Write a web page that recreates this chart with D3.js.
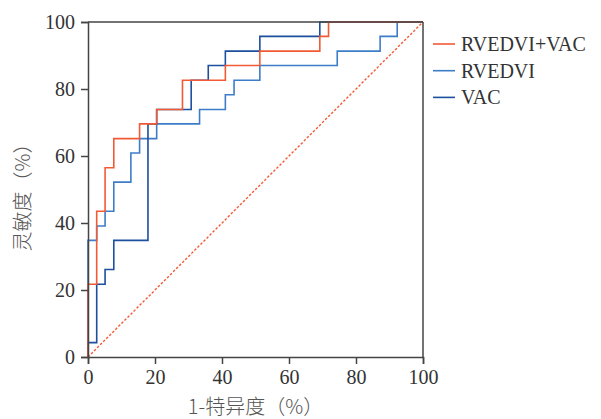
<!DOCTYPE html>
<meta charset="utf-8">
<style>
body { margin: 0; background: #fff; }
.tick text { font-family: "Liberation Serif", serif; font-size: 20px; fill: #333; }
.title { font-family: "Noto Sans CJK SC", sans-serif; font-size: 20px; fill: #555; font-weight: 300; }
.legend text { font-family: "Liberation Serif", serif; font-size: 20px; fill: #333; }
</style>
<body>
<script src="https://d3js.org/d3.v7.min.js"></script>
<script>

// ROC curve corner points, 1-specificity (%) and sensitivity (%)
var comboFpr  = [0, 0, 2.6, 2.6, 5.1, 5.1, 7.7, 7.7, 15.4, 15.4, 20.5, 20.5, 28.2, 28.2, 41.0, 41.0, 51.3, 51.3, 69.2, 69.2, 71.8, 71.8, 100];
var comboSens = [0, 21.7, 21.7, 43.5, 43.5, 56.5, 56.5, 65.2, 65.2, 69.6, 69.6, 73.9, 73.9, 82.6, 82.6, 87.0, 87.0, 91.3, 91.3, 95.7, 95.7, 100, 100];

var rvedviFpr  = [0, 0, 2.6, 2.6, 5.1, 5.1, 7.7, 7.7, 12.8, 12.8, 15.4, 15.4, 20.5, 20.5, 33.3, 33.3, 41.0, 41.0, 43.6, 43.6, 51.3, 51.3, 74.4, 74.4, 87.2, 87.2, 92.3, 92.3, 100];
var rvedviSens = [0, 34.8, 34.8, 39.1, 39.1, 43.5, 43.5, 52.2, 52.2, 60.9, 60.9, 65.2, 65.2, 69.6, 69.6, 73.9, 73.9, 78.3, 78.3, 82.6, 82.6, 87.0, 87.0, 91.3, 91.3, 95.7, 95.7, 100, 100];

var vacFpr  = [0, 0, 2.6, 2.6, 5.1, 5.1, 7.7, 7.7, 17.9, 17.9, 20.5, 20.5, 30.8, 30.8, 35.9, 35.9, 41.0, 41.0, 51.3, 51.3, 69.2, 69.2, 100];
var vacSens = [0, 4.3, 4.3, 21.7, 21.7, 26.1, 26.1, 34.8, 34.8, 69.6, 69.6, 73.9, 73.9, 82.6, 82.6, 87.0, 87.0, 91.3, 91.3, 95.7, 95.7, 100, 100];

var seriesNames = ["RVEDVI+VAC", "RVEDVI", "VAC"];
var seriesColors = ["#f15a35", "#3d7dc8", "#1c4f9e"];
var tickValues = [0, 20, 40, 60, 80, 100];

var margin = {top: 22, right: 178, bottom: 62, left: 88},
    width = 601 - margin.left - margin.right,
    height = 419 - margin.top - margin.bottom;

var svg = d3.select("body").append("svg")
    .attr("width", 601)
    .attr("height", 419);

var g = svg.append("g")
    .attr("transform", "translate(" + margin.left + "," + margin.top + ")");

var x = d3.scaleLinear().domain([0, 100]).range([0, width]);
var y = d3.scaleLinear().domain([0, 100]).range([height, 0]);

// reference diagonal
g.append("line")
    .attr("x1", x(0)).attr("y1", y(0))
    .attr("x2", x(100)).attr("y2", y(100))
    .attr("stroke", "#f15a35")
    .attr("stroke-width", 1.4)
    .attr("stroke-dasharray", "2.5,1.8");

var line = d3.line()
    .x(function(d) { return x(d[0]); })
    .y(function(d) { return y(d[1]); });

var curves = [
    d3.zip(comboFpr, comboSens),
    d3.zip(rvedviFpr, rvedviSens),
    d3.zip(vacFpr, vacSens)
];

// draw light blue first, then dark blue, then orange
[1, 2, 0].forEach(function(i) {
    g.append("path")
        .datum(curves[i])
        .attr("fill", "none")
        .attr("stroke", seriesColors[i])
        .attr("stroke-width", 1.6)
        .attr("d", line);
});

// frame
g.append("line").attr("x1", 0).attr("x2", width).attr("y1", 0).attr("y2", 0)
    .attr("stroke", "#444").attr("stroke-width", 1.5);
g.append("line").attr("x1", width).attr("x2", width).attr("y1", 0).attr("y2", height)
    .attr("stroke", "#444").attr("stroke-width", 1.5);

var xAxis = g.append("g")
    .attr("transform", "translate(0," + height + ")")
    .call(d3.axisBottom(x).tickValues(tickValues).tickSize(7).tickPadding(6));

var yAxis = g.append("g")
    .call(d3.axisLeft(y).tickValues(tickValues).tickSize(7).tickPadding(6));

[xAxis, yAxis].forEach(function(a) {
    a.select(".domain").attr("stroke", "#444").attr("stroke-width", 1.5);
    a.selectAll(".tick line").attr("stroke", "#444").attr("stroke-width", 1.5);
});

svg.append("text")
    .attr("class", "title")
    .attr("x", margin.left + width / 2)
    .attr("y", 414)
    .attr("text-anchor", "middle")
    .text("1-特异度（%）");

svg.append("text")
    .attr("class", "title")
    .attr("transform", "translate(30," + (margin.top + height / 2 + 3) + ") rotate(-90)")
    .attr("text-anchor", "middle")
    .text("灵敏度（%）");

var legend = svg.append("g").attr("class", "legend");
seriesNames.forEach(function(name, i) {
    var ly = 44 + i * 26.7;
    legend.append("line")
        .attr("x1", 433).attr("x2", 455)
        .attr("y1", ly).attr("y2", ly)
        .attr("stroke", seriesColors[i])
        .attr("stroke-width", 1.6);
    legend.append("text")
        .attr("x", 461)
        .attr("y", ly)
        .attr("dy", "0.35em")
        .text(name);
});

</script>
</body>
